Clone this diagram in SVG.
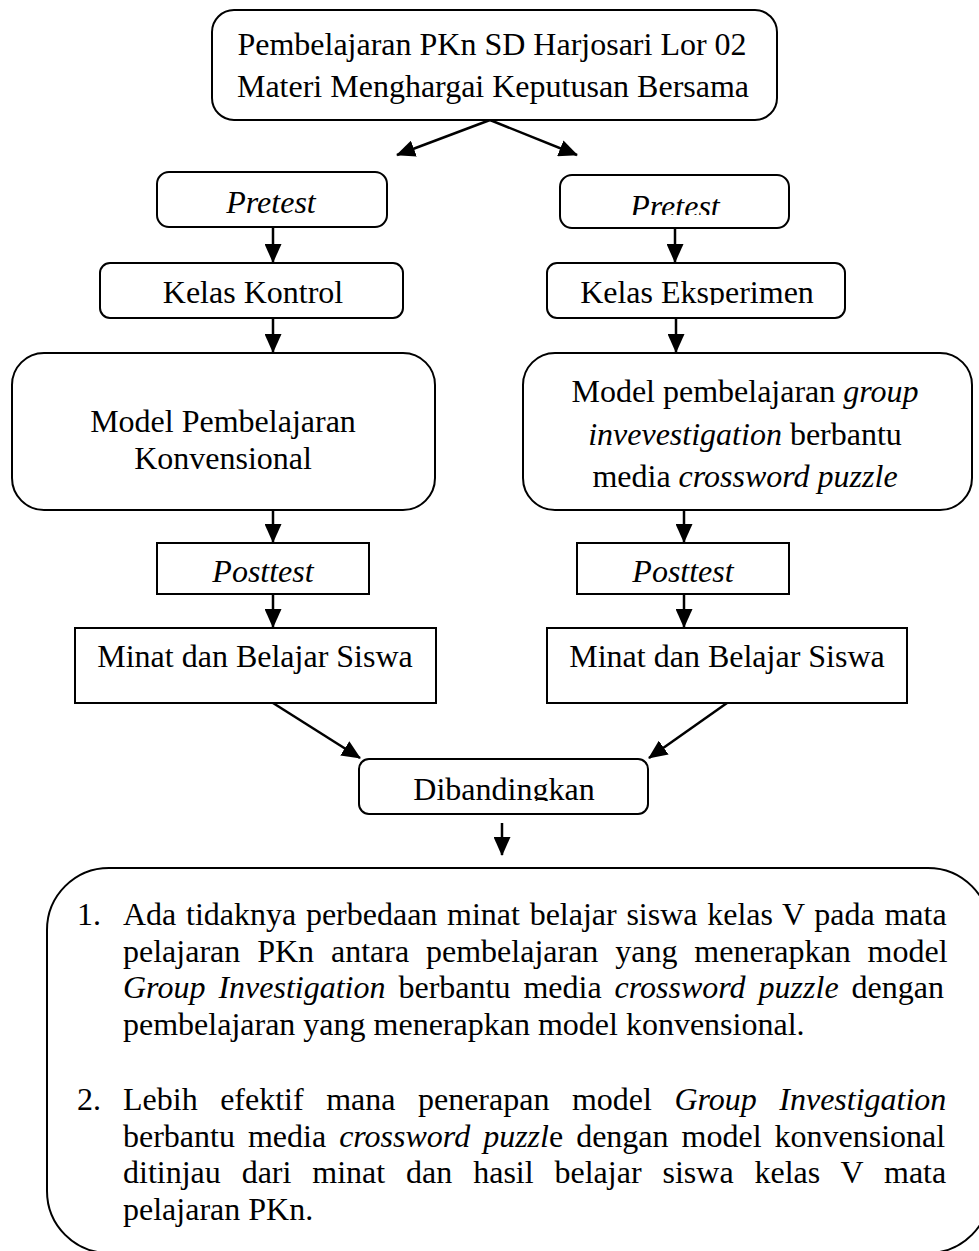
<svg xmlns="http://www.w3.org/2000/svg" width="979" height="1251" viewBox="0 0 979 1251">
<style>
.box{fill:#fff;stroke:#000;stroke-width:2}
.t{font-family:"Liberation Serif","Times New Roman",serif;font-size:32px;fill:#000}
.i{font-style:italic}
.c{text-anchor:middle}
.conn line{stroke:#000;stroke-width:2.5;marker-end:url(#ah)}
</style>
<defs>
<marker id="ah" markerUnits="userSpaceOnUse" markerWidth="19" markerHeight="17" refX="18" refY="8.5" orient="auto">
<path d="M0,0 L19,8.5 L0,17 z" fill="#000"/>
</marker>
<clipPath id="clipPre"><rect x="560" y="175" width="229" height="40"/></clipPath>
<clipPath id="clipKE"><rect x="547" y="263" width="298" height="42"/></clipPath>
<clipPath id="clipDib"><rect x="359" y="759" width="289" height="42"/></clipPath>
</defs>
<rect width="979" height="1251" fill="#fff"/>

<g id="connectors" class="conn">
<line x1="490" y1="120" x2="397" y2="155"/>
<line x1="490" y1="120" x2="577" y2="155"/>
<line x1="273" y1="227" x2="273" y2="262"/>
<line x1="675" y1="228" x2="675" y2="262"/>
<line x1="273" y1="318" x2="273" y2="352"/>
<line x1="676" y1="318" x2="676" y2="352"/>
<line x1="273" y1="510" x2="273" y2="542"/>
<line x1="684" y1="510" x2="684" y2="542"/>
<line x1="273" y1="594" x2="273" y2="627"/>
<line x1="684" y1="594" x2="684" y2="627"/>
<line x1="273" y1="703" x2="360" y2="758"/>
<line x1="727" y1="703" x2="649" y2="758"/>
<line x1="502" y1="823" x2="502" y2="855"/>
</g>

<g id="top">
<rect class="box" x="212" y="10" width="565" height="110" rx="22"/>
<text class="t c" x="492" y="55">Pembelajaran PKn SD Harjosari Lor 02</text>
<text class="t c" x="493" y="97">Materi Menghargai Keputusan Bersama</text>
</g>

<g id="pretestL">
<rect class="box" x="157" y="172" width="230" height="55" rx="12"/>
<text class="t c i" x="271" y="213">Pretest</text>
</g>

<g id="pretestR">
<rect class="box" x="560" y="175" width="229" height="53" rx="12"/>
<text class="t c i" x="675" y="217" clip-path="url(#clipPre)">Pretest</text>
</g>

<g id="kelasKontrol">
<rect class="box" x="100" y="263" width="303" height="55" rx="10"/>
<text class="t c" x="253" y="303">Kelas Kontrol</text>
</g>

<g id="kelasEksperimen">
<rect class="box" x="547" y="263" width="298" height="55" rx="10"/>
<text class="t c" x="697" y="303" clip-path="url(#clipKE)">Kelas Eksperimen</text>
</g>

<g id="modelKonvensional">
<rect class="box" x="12" y="353" width="423" height="157" rx="32"/>
<text class="t c" x="223" y="432">Model Pembelajaran</text>
<text class="t c" x="223" y="469">Konvensional</text>
</g>

<g id="modelGI">
<rect class="box" x="523" y="353" width="449" height="157" rx="32"/>
<text class="t c" x="745" y="402">Model pembelajaran <tspan class="i">group</tspan></text>
<text class="t c" x="745" y="445"><tspan class="i">invevestigation</tspan> berbantu</text>
<text class="t c" x="745" y="487">media <tspan class="i">crossword puzzle</tspan></text>
</g>

<g id="posttestL">
<rect class="box" x="157" y="543" width="212" height="51"/>
<text class="t c i" x="263" y="582">Posttest</text>
</g>

<g id="posttestR">
<rect class="box" x="577" y="543" width="212" height="51"/>
<text class="t c i" x="683" y="582">Posttest</text>
</g>

<g id="minatL">
<rect class="box" x="75" y="628" width="361" height="75"/>
<text class="t c" x="255" y="667">Minat dan Belajar Siswa</text>
</g>

<g id="minatR">
<rect class="box" x="547" y="628" width="360" height="75"/>
<text class="t c" x="727" y="667">Minat dan Belajar Siswa</text>
</g>

<g id="dibandingkan">
<rect class="box" x="359" y="759" width="289" height="55" rx="10"/>
<text class="t c" x="504" y="800" clip-path="url(#clipDib)">Dibandingkan</text>
</g>

<g id="hasil">
<rect class="box" x="47" y="868" width="943" height="385" rx="62"/>
<text class="t" x="77" y="925">1.</text>
<text class="t" x="123" y="925" word-spacing="1.7">Ada tidaknya perbedaan minat belajar siswa kelas V pada mata</text>
<text class="t" x="123" y="962" word-spacing="8.9">pelajaran PKn antara pembelajaran yang menerapkan model</text>
<text class="t" x="123" y="998" word-spacing="5"><tspan class="i">Group Investigation</tspan> berbantu media <tspan class="i">crossword puzzle</tspan> dengan</text>
<text class="t" x="123" y="1035">pembelajaran yang menerapkan model konvensional.</text>
<text class="t" x="77" y="1110">2.</text>
<text class="t" x="123" y="1110" word-spacing="14.5">Lebih efektif mana penerapan model <tspan class="i">Group Investigation</tspan></text>
<text class="t" x="123" y="1147" word-spacing="5">berbantu media <tspan class="i">crossword puzzl</tspan>e dengan model konvensional</text>
<text class="t" x="123" y="1183" word-spacing="12.9">ditinjau dari minat dan hasil belajar siswa kelas V mata</text>
<text class="t" x="123" y="1220">pelajaran PKn.</text>
</g>
</svg>
